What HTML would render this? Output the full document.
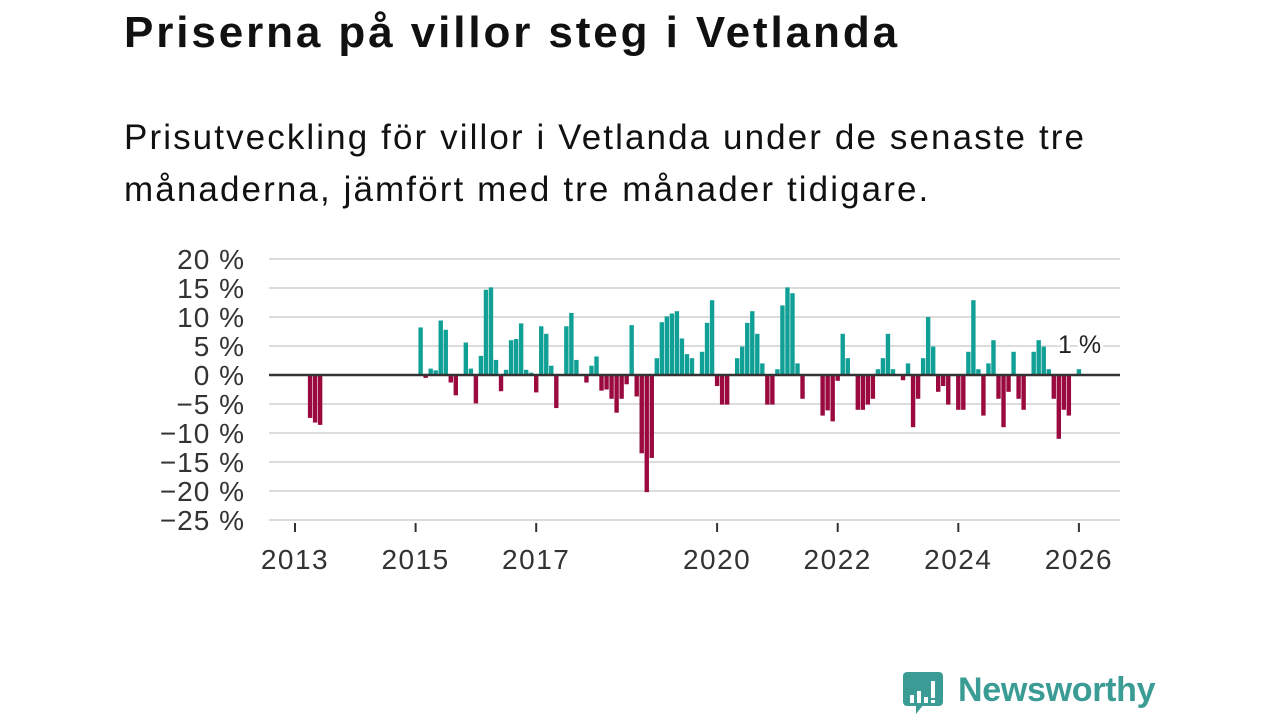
<!DOCTYPE html>
<html><head><meta charset="utf-8"><style>
body{margin:0;width:1280px;height:720px;background:#fff;font-family:"Liberation Sans","DejaVu Sans",sans-serif;overflow:hidden;position:relative}
h1{position:absolute;left:124px;top:8px;margin:0;font-size:44px;font-weight:bold;color:#111;letter-spacing:2.9px;white-space:nowrap}
p{position:absolute;left:124px;top:112px;margin:0;font-size:35px;line-height:52px;color:#111;width:1100px;letter-spacing:2.1px}
svg{position:absolute;left:0;top:0}
</style></head><body>
<h1>Priserna på villor steg i Vetlanda</h1>
<p>Prisutveckling för villor i Vetlanda under de senaste tre<br>månaderna, jämfört med tre månader tidigare.</p>
<svg id="chart" width="1280" height="720"></svg>
<div style="position:absolute;left:903px;top:672px;width:40px;height:34px;background:#3a9c94;border-radius:4px"></div>
<div style="position:absolute;left:916px;top:704px;width:0;height:0;border-left:8px solid #3a9c94;border-bottom:10px solid transparent"></div>
<div style="position:absolute;left:910px;top:683px;width:30px;height:20px">
<span style="position:absolute;left:0;bottom:0;width:4px;height:8px;background:#fff"></span>
<span style="position:absolute;left:7px;bottom:0;width:4px;height:12px;background:#fff"></span>
<span style="position:absolute;left:14px;bottom:0;width:4px;height:6px;background:#fff"></span>
<span style="position:absolute;left:21px;bottom:5px;width:4px;height:17px;background:#fff"></span>
<span style="position:absolute;left:21px;bottom:0;width:4px;height:3px;background:#fff"></span>
</div>
<div style="position:absolute;left:958px;top:671px;font-size:34px;font-weight:bold;color:#3a9c94;letter-spacing:-0.3px">Newsworthy</div>
<script>
const months=[3,4,5,25,26,27,28,29,30,31,32,34,35,36,37,38,39,40,41,42,43,44,45,46,47,48,49,50,51,52,54,55,56,58,59,60,61,62,63,64,65,66,67,68,69,70,71,72,73,74,75,76,77,78,79,81,82,83,84,85,86,88,89,90,91,92,93,94,95,96,97,98,99,100,101,105,106,107,108,109,110,112,113,114,115,116,117,118,119,121,122,123,124,125,126,127,128,129,130,132,133,134,135,136,137,138,139,140,141,142,143,144,145,147,148,149,150,151,152,153,154,156];
const values=[-7.4,-8.2,-8.6,8.2,-0.5,1.1,0.8,9.4,7.8,-1.3,-3.5,5.6,1.1,-4.9,3.3,14.7,15.1,2.6,-2.8,0.9,6.0,6.2,8.9,0.9,0.4,-3.0,8.4,7.1,1.6,-5.7,8.4,10.7,2.6,-1.3,1.6,3.2,-2.7,-2.5,-4.1,-6.5,-4.1,-1.6,8.6,-3.7,-13.5,-20.2,-14.3,2.9,9.1,10.1,10.6,11.0,6.3,3.6,2.9,4.0,9.0,12.9,-1.9,-5.1,-5.1,2.9,4.9,9.0,11.0,7.1,2.0,-5.1,-5.1,1.0,12.0,15.1,14.1,2.0,-4.1,-7.0,-6.1,-8.0,-1.0,7.1,2.9,-6.0,-6.0,-5.1,-4.1,1.0,2.9,7.1,1.0,-0.9,2.0,-9.0,-4.1,2.9,10.0,4.9,-2.9,-1.9,-5.1,-6.0,-6.0,4.0,12.9,1.0,-7.0,2.0,6.0,-4.1,-9.0,-2.9,4.0,-4.1,-6.0,4.0,6.0,4.9,1.0,-4.1,-11.0,-6.0,-7.0,1.0];
const yTicks=[20,15,10,5,0,-5,-10,-15,-20,-25];
const xYears=[2013,2015,2017,2020,2022,2024,2026];
const NS='http://www.w3.org/2000/svg';
const svg=document.getElementById('chart');
const y=v=>375-v*5.8;
const xm=m=>295+m*60.3/12;
const xy=yr=>xm((yr-2013)*12);
function mk(t,a){const e=document.createElementNS(NS,t);for(const k in a)e.setAttribute(k,a[k]);svg.appendChild(e);return e;}
yTicks.forEach(v=>{
  if(v!==0){const g=mk('line',{x1:269,x2:1120,y1:y(v),y2:y(v),stroke:'#dcdcdc','stroke-width':2});
  
  }
  const t=mk('text',{x:245,y:y(v)+10,'text-anchor':'end','font-size':28,'letter-spacing':1,fill:'#333','font-family':'Liberation Sans, sans-serif'});
  t.textContent=(v<0?'\u2212'+(-v):v)+' %';
  
  
});
xYears.forEach(yr=>{
  const l=mk('line',{x1:xy(yr),x2:xy(yr),y1:523,y2:532,stroke:'#333','stroke-width':2});
  
  
  const t=mk('text',{x:xy(yr),y:569,'text-anchor':'middle','font-size':28,'letter-spacing':1.5,fill:'#333','font-family':'Liberation Sans, sans-serif'});
  t.textContent=yr;
  
  
});
months.forEach((m,i)=>{
  const v=values[i];
  const r=mk('rect',{x:xm(m)-2.2,width:4.4,y:Math.min(y(v),y(0)),height:Math.abs(y(v)-y(0)),fill:v>=0?'#10a096':'#9b0a3e'});
  
  
});
const z=mk('line',{x1:269,x2:1120,y1:375,y2:375,stroke:'#333','stroke-width':2.5});


const lab=mk('text',{x:1058,y:353,'font-size':25,fill:'#222',stroke:'#fff','stroke-width':6,'paint-order':'stroke','font-family':'Liberation Sans, sans-serif'});
lab.textContent=values[values.length-1].toFixed(0)+' %';


</script>
</body></html>
